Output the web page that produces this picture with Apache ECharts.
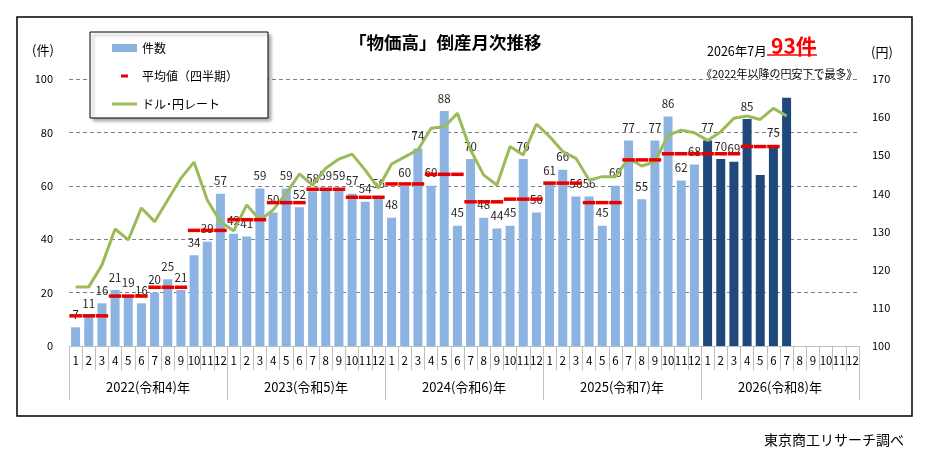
<!DOCTYPE html>
<html>
<head>
<meta charset="utf-8">
<script src="https://cdn.jsdelivr.net/npm/echarts@6/dist/echarts.min.js"></script>
<style>
html, body { margin: 0; padding: 0; background: #fff; }
#container { width: 930px; height: 456px; }
</style>
</head>
<body>
<div id="container"></div>
<script>
// 年ラベル・月ラベル
let years = ['2022(令和4)年', '2023(令和5)年', '2024(令和6)年', '2025(令和7)年', '2026(令和8)年'];
let monthLabels = ['1', '2', '3', '4', '5', '6', '7', '8', '9', '10', '11', '12'];

// 倒産件数 (2022年1月〜2026年7月)
let counts = [
    7, 11, 16, 21, 19, 16, 20, 25, 21, 34, 39, 57,
    42, 41, 59, 50, 59, 52, 58, 59, 59, 57, 54, 56,
    48, 60, 74, 60, 88, 45, 70, 48, 44, 45, 70, 50,
    61, 66, 56, 56, 45, 60, 77, 55, 77, 86, 62, 68,
    77, 70, 69, 85, 64, 75, 93
];

// 平均値（四半期）
let quarterAvg = [
    11.3, 18.7, 22.0, 43.3,
    47.3, 53.7, 58.7, 55.7,
    60.7, 64.3, 54.0, 55.0,
    61.0, 53.7, 69.7, 72.0,
    72.0, 74.7
];

// ドル・円レート
let yenRate = [
    115.5, 115.5, 121.2, 130.7, 127.8, 136.2, 132.6, 138.3, 144.0, 148.2, 138.3, 132.6,
    130.2, 137.0, 133.0, 135.7, 140.0, 145.1, 142.2, 146.6, 149.0, 150.3, 146.1, 141.4,
    147.7, 149.6, 151.4, 157.1, 157.5, 161.0, 151.4, 144.8, 142.2, 152.3, 150.1, 158.2,
    154.9, 151.0, 149.2, 143.5, 144.4, 144.4, 149.2, 147.2, 148.3, 155.3, 156.6, 155.9,
    153.9, 156.2, 159.7, 160.3, 159.4, 162.3, 160.3
];

// ラベルを出さない月 (2026年5月, 7月)
let noLabel = [52, 54];

let font = '"Noto Sans CJK JP", "Noto Sans", sans-serif';

let cats = [];
years.forEach((y, yi) => {
    monthLabels.forEach((m) => {
        cats.push(yi + '-' + m);
    });
});

let barData = counts.map((v, i) => {
    let item = {value: v};
    if (i >= 48) item.itemStyle = {color: '#1f497d'};
    if (noLabel.includes(i)) item.label = {show: false};
    return item;
});

let avgData = [];
quarterAvg.forEach((v) => {
    avgData.push(v, v, v);
});

let dom = document.getElementById('container');
let chart = echarts.init(dom);

chart.setOption({
    animation: false,
    textStyle: {fontFamily: font},
    title: [{
        text: '「物価高」倒産月次推移',
        left: 344,
        top: 29,
        textStyle: {fontSize: 17.5, fontWeight: 'bold', color: '#000', fontFamily: font}
    }, {
        text: '2026年7月',
        left: 702,
        top: 40,
        textStyle: {fontSize: 12.5, fontWeight: 'normal', color: '#000', fontFamily: font}
    }, {
        text: '93件',
        left: 766,
        top: 31,
        textStyle: {fontSize: 21, fontWeight: 'bold', color: '#ff0000', fontFamily: font}
    }, {
        text: '《2022年以降の円安下で最多》',
        left: 696,
        top: 63,
        textStyle: {fontSize: 11, fontWeight: 'normal', color: '#000', fontFamily: font}
    }, {
        text: '東京商工リサーチ調べ',
        left: 759,
        top: 428,
        textStyle: {fontSize: 14, fontWeight: 'normal', color: '#000', fontFamily: font}
    }],
    graphic: [{
        type: 'rect',
        silent: true,
        z: -10,
        shape: {x: 17, y: 17, width: 895, height: 399},
        style: {fill: 'none', stroke: '#000', lineWidth: 1.5}
    }, {
        type: 'line',
        silent: true,
        shape: {x1: 767, y1: 55, x2: 817, y2: 55},
        style: {stroke: '#ff0000', lineWidth: 1.5}
    }],
    legend: {
        orient: 'vertical',
        left: 90,
        top: 32,
        itemWidth: 25,
        itemHeight: 8,
        itemGap: 16,
        padding: [10, 30, 8, 22],
        borderColor: '#000',
        borderWidth: 1,
        backgroundColor: '#fff',
        shadowColor: 'rgba(0,0,0,0.35)',
        shadowBlur: 3,
        shadowOffsetX: 3,
        shadowOffsetY: 3,
        textStyle: {fontSize: 12, color: '#000', fontFamily: font},
        data: [
            {name: '件数', icon: 'rect'},
            {name: '平均値（四半期）', icon: 'path://M0,0M25,8M9,2.5h7v3h-7z'},
            {name: 'ドル･円レート', icon: 'path://M0,0M25,8M0,2.5h25v3h-25z'}
        ]
    },
    grid: {left: 69, right: 71, top: 79, bottom: 110},
    xAxis: [{
        type: 'category',
        position: 'bottom',
        data: cats,
        axisLine: {show: true, lineStyle: {color: '#bfbfbf'}},
        axisTick: {show: true, interval: 0, length: 24, lineStyle: {color: '#bfbfbf'}},
        axisLabel: {
            interval: 0,
            margin: 9,
            fontSize: 11.5,
            color: '#000',
            fontFamily: font,
            formatter: (v) => v.split('-')[1]
        }
    }, {
        type: 'category',
        position: 'bottom',
        data: years,
        axisLine: {show: false},
        axisTick: {show: true, interval: 0, length: 54, lineStyle: {color: '#bfbfbf'}},
        axisLabel: {interval: 0, margin: 35, fontSize: 13, color: '#000', fontFamily: font}
    }],
    yAxis: [{
        type: 'value',
        min: 0,
        max: 100,
        interval: 20,
        name: '(件)',
        nameLocation: 'end',
        nameGap: 22,
        nameTextStyle: {fontSize: 13, color: '#000', padding: [0, 52, 0, 0], fontFamily: font},
        axisLine: {show: false},
        axisTick: {show: false},
        axisLabel: {margin: 16, fontSize: 11, color: '#000', fontFamily: font},
        splitLine: {lineStyle: {type: [4, 3], color: '#808080'}}
    }, {
        type: 'value',
        min: 100,
        max: 170,
        interval: 10,
        name: '(円)',
        nameLocation: 'end',
        nameGap: 20,
        nameTextStyle: {fontSize: 13, color: '#000', padding: [0, 0, 0, 46], fontFamily: font},
        axisLine: {show: false},
        axisTick: {show: false},
        axisLabel: {margin: 13, fontSize: 11, color: '#000', fontFamily: font},
        splitLine: {show: false}
    }],
    series: [{
        name: '件数',
        type: 'bar',
        barWidth: 9,
        itemStyle: {color: '#8db3e2'},
        label: {
            show: true,
            position: 'top',
            distance: 7,
            fontSize: 11.5,
            color: '#262626',
            fontFamily: font
        },
        z: 2,
        data: barData
    }, {
        name: 'ドル･円レート',
        type: 'line',
        yAxisIndex: 1,
        symbol: 'none',
        lineStyle: {color: '#9bbb59', width: 3},
        itemStyle: {color: '#9bbb59'},
        z: 3,
        data: yenRate
    }, {
        name: '平均値（四半期）',
        type: 'scatter',
        symbol: 'rect',
        symbolSize: [12.5, 3.5],
        itemStyle: {color: '#e60000', opacity: 1},
        z: 4,
        data: avgData
    }]
});
</script>
</body>
</html>
